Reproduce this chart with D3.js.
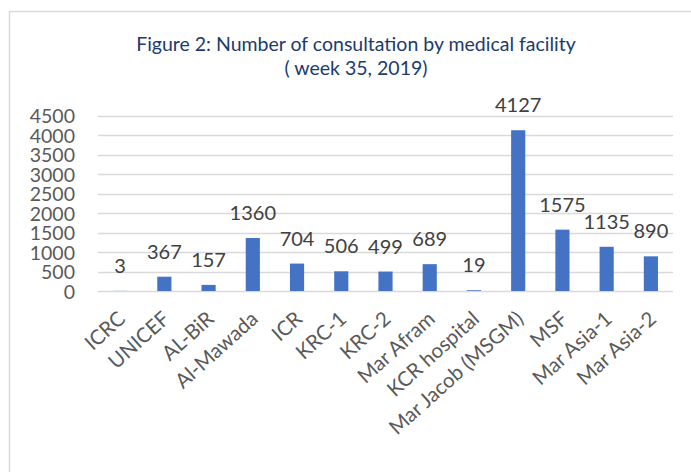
<!DOCTYPE html>
<html>
<head>
<meta charset="utf-8">
<script src="https://cdn.jsdelivr.net/npm/d3@7"></script>
<style>
  body { margin: 0; background: #fff; }
  text { font-family: Lato, "Open Sans", sans-serif; }
</style>
</head>
<body>
<div id="chart"></div>
<script>
// Chart data
var facilities = ["ICRC", "UNICEF", "AL-BiR", "Al-Mawada", "ICR", "KRC-1", "KRC-2",
    "Mar Afram", "KCR hospital", "Mar Jacob (MSGM)", "MSF", "Mar Asia-1", "Mar Asia-2"];
var consultations = [3, 367, 157, 1360, 704, 506, 499, 689, 19, 4127, 1575, 1135, 890];
var yTicks = [0, 500, 1000, 1500, 2000, 2500, 3000, 3500, 4000, 4500];
var titleLines = ["Figure 2: Number of consultation by medical facility", "( week 35, 2019)"];

var svgWidth = 691;
var svgHeight = 472;
var plot = { left: 98, right: 673, top: 115.7, bottom: 291 };

var svg = d3.select("#chart")
    .append("svg")
    .attr("width", svgWidth)
    .attr("height", svgHeight);

// chart frame (cropped on the right and bottom)
svg.append("path")
    .attr("d", "M9.5," + svgHeight + "V11.5H" + svgWidth)
    .attr("fill", "none")
    .attr("stroke", "#d9d9d9")
    .attr("stroke-width", 1.5);

// title
svg.append("g")
    .selectAll("text")
    .data(titleLines)
    .enter()
    .append("text")
    .attr("x", 356)
    .attr("y", (d, i) => 51 + i * 24)
    .attr("text-anchor", "middle")
    .style("font-size", "19.5px")
    .style("fill", "#203a6e")
    .text(d => d);

var xScale = d3.scaleBand()
    .domain(facilities)
    .range([plot.left, plot.right])
    .paddingInner(0.68)
    .paddingOuter(0.34);

var yScale = d3.scaleLinear()
    .domain([0, 4500])
    .range([plot.bottom, plot.top]);

// gridlines
svg.append("g")
    .selectAll("line")
    .data(yTicks)
    .enter()
    .append("line")
    .attr("x1", plot.left)
    .attr("x2", plot.right)
    .attr("y1", d => Math.round(yScale(d)) + 0.5)
    .attr("y2", d => Math.round(yScale(d)) + 0.5)
    .attr("stroke", "#d9d9d9")
    .attr("stroke-width", 1.3);

// y axis labels
var leftAxis = d3.axisLeft(yScale).tickValues(yTicks).tickFormat(d3.format("d"))
    .tickSize(0).tickPadding(0);
var yAxisG = svg.append("g")
    .attr("transform", "translate(75,0)")
    .call(leftAxis);
yAxisG.select(".domain").remove();
yAxisG.selectAll("text")
    .style("font-size", "19.5px")
    .style("fill", "#595959")
    .attr("dy", "0.36em");

// bars
svg.append("g")
    .selectAll("rect")
    .data(consultations)
    .enter()
    .append("rect")
    .attr("x", (d, i) => xScale(facilities[i]))
    .attr("y", d => yScale(d))
    .attr("width", xScale.bandwidth())
    .attr("height", d => plot.bottom - yScale(d))
    .attr("fill", "#4472c4");

// data labels
svg.append("g")
    .selectAll("text")
    .data(consultations)
    .enter()
    .append("text")
    .attr("x", (d, i) => xScale(facilities[i]) + xScale.bandwidth() / 2)
    .attr("y", d => yScale(d) - 18)
    .attr("text-anchor", "middle")
    .style("font-size", "20px")
    .style("fill", "#404040")
    .text(d => d);

// x axis labels
var bottomAxis = d3.axisBottom(xScale).tickSize(0).tickPadding(0);
var xAxisG = svg.append("g")
    .attr("transform", "translate(0," + plot.bottom + ")")
    .call(bottomAxis);
xAxisG.select(".domain").remove();
xAxisG.selectAll("text")
    .style("font-size", "20.5px")
    .style("fill", "#595959")
    .attr("text-anchor", "end")
    .attr("y", null)
    .attr("transform", "translate(-3,19) rotate(-42)")
    .attr("dy", "0.7em");
</script>
</body>
</html>
